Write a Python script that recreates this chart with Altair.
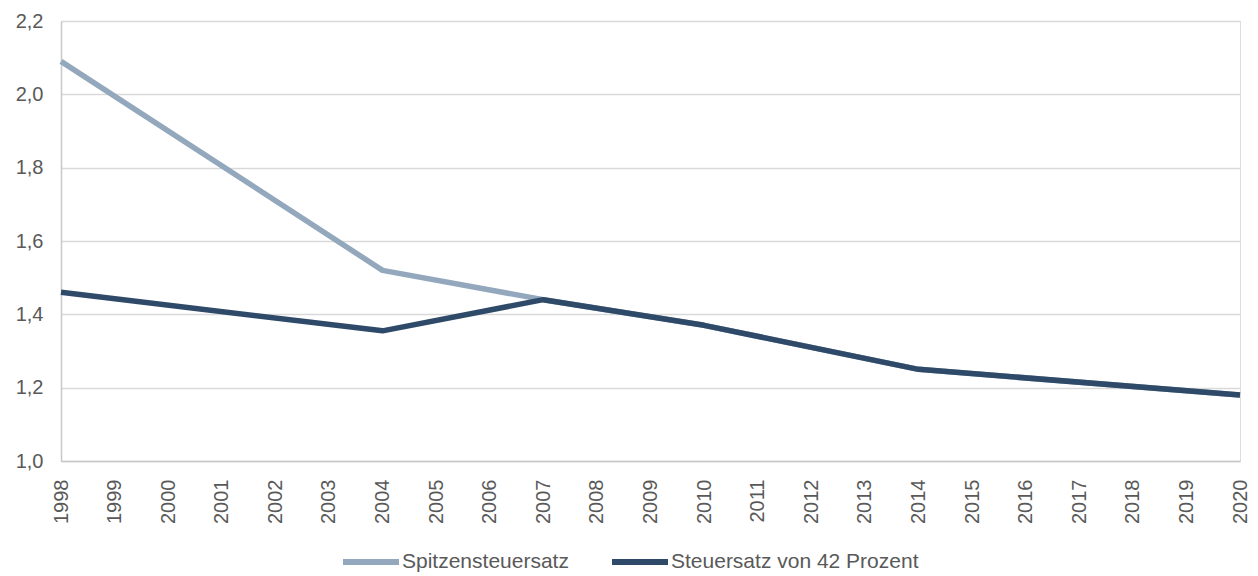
import altair as alt
import pandas as pd

years = [str(y) for y in range(1998, 2021)]

spitzen_years = ["1998", "2004", "2007", "2010", "2014", "2020"]
spitzen_values = [2.09, 1.52, 1.44, 1.37, 1.25, 1.18]

satz42_years = ["1998", "2004", "2007", "2010", "2014", "2020"]
satz42_values = [1.46, 1.355, 1.44, 1.37, 1.25, 1.18]

series_names = ["Spitzensteuersatz", "Steuersatz von 42 Prozent"]
series_colors = ["#93a8bd", "#2e4a68"]

df = pd.concat([
    pd.DataFrame({"Jahr": spitzen_years, "Wert": spitzen_values, "Reihe": series_names[0]}),
    pd.DataFrame({"Jahr": satz42_years, "Wert": satz42_values, "Reihe": series_names[1]}),
])

FONT = "Liberation Sans"
GRAY = "#595959"

x = alt.X("Jahr:O", scale=alt.Scale(type="point", domain=years, padding=0),
          axis=alt.Axis(title=None, labelAngle=-90, labelFontSize=20, labelColor=GRAY,
                        labelFont=FONT, ticks=False, domainColor="#c8c8c8", domainWidth=1.5,
                        labelPadding=18, grid=False))
y = alt.Y("Wert:Q", scale=alt.Scale(domain=[1.0, 2.2], nice=False, zero=False),
          axis=alt.Axis(title=None, values=[1.0, 1.2, 1.4, 1.6, 1.8, 2.0, 2.2],
                        labelExpr="replace(format(datum.value, '.1f'), '.', ',')",
                        labelFontSize=20, labelColor=GRAY, labelFont=FONT, ticks=False,
                        domainColor="#c8c8c8", domainWidth=1.5, labelPadding=18,
                        gridColor="#d9d9d9", gridWidth=1.5))
color = alt.Color("Reihe:N", scale=alt.Scale(domain=series_names, range=series_colors),
                  legend=alt.Legend(title=None, orient="none", direction="horizontal",
                                    legendX=279, legendY=510, symbolType="stroke",
                                    symbolSize=3136, symbolStrokeWidth=6,
                                    labelFontSize=21, labelColor=GRAY, labelFont=FONT,
                                    labelLimit=400, columnPadding=31, labelOffset=0))

base = alt.Chart(df).mark_line(strokeWidth=5.5, strokeJoin="round").encode(x=x, y=y, color=color)

chart = alt.layer(
    base.transform_filter(alt.datum.Reihe == series_names[0]),
    base.transform_filter(alt.datum.Reihe == series_names[1]),
).properties(
    width=1179, height=440,
    autosize=alt.AutoSizeParams(type="none"),
    padding={"left": 53, "top": 13, "right": 10, "bottom": 115},
).configure_view(stroke=None).configure(background="white")

chart.save("out.html", embed_options={"renderer": "svg", "actions": False})
